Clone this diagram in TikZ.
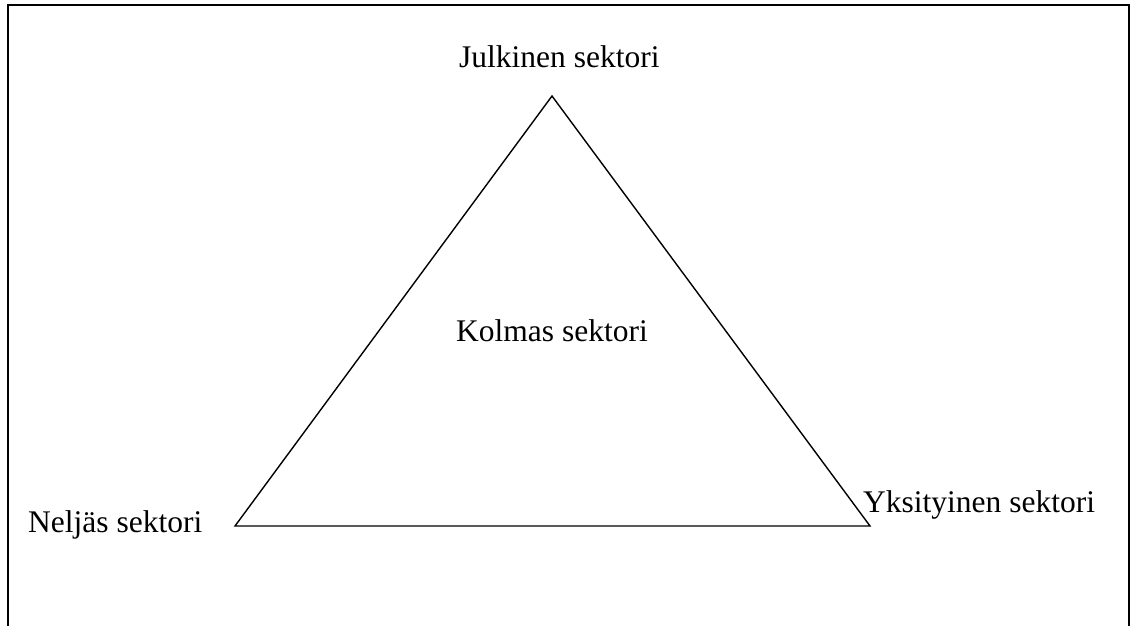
\documentclass[tikz,border=0pt]{standalone}
\usepackage{fontspec}
\setmainfont{Liberation Serif}
\usetikzlibrary{positioning}

\begin{document}
\begin{tikzpicture}[x=1pt,y=-1pt,line join=miter]
\useasboundingbox (0,0) rectangle (1131,625);
\tikzset{sector/.style={inner sep=0pt,font=\fontsize{31.5}{36}\selectfont}}
% frame, open at the bottom
\coordinate (fbl) at (8,626);
\coordinate (ftl) at (8,5);
\coordinate (ftr) at (1129,5);
\coordinate (fbr) at (1129,626);
\draw[line width=2pt] (fbl) -- (ftl) -- (ftr) -- (fbr);
% triangle
\coordinate (apex) at (552,96);
\coordinate (bleft) at (235,526);
\coordinate (bright) at (870,526);
\draw[line width=1.4pt] (apex) -- (bleft) -- (bright) -- cycle;
% labels
\node[sector,anchor=base west] (public) at (459,67) {Julkinen sektori};
\node[sector,anchor=base] (third) at (552,341) {Kolmas sektori};
\node[sector,anchor=base west] (fourth) at (28,532) {Neljäs sektori};
\node[sector,anchor=base west] (private) at (863,512) {Yksityinen sektori};
\end{tikzpicture}
\end{document}
